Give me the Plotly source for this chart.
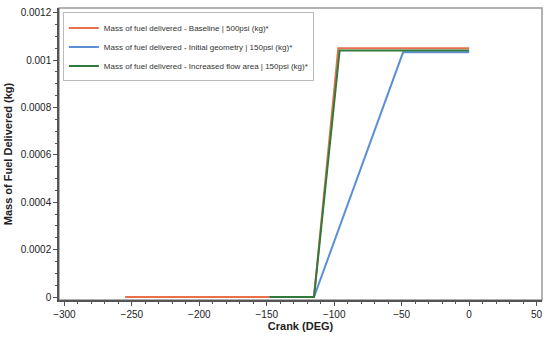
import plotly.graph_objects as go

names = [
    "Mass of fuel delivered - Baseline | 500psi (kg)*",
    "Mass of fuel delivered - Initial geometry | 150psi (kg)*",
    "Mass of fuel delivered - Increased flow area | 150psi (kg)*",
]
baseline_x = [-255, -115, -97, 0]
baseline_y = [0.0, 0.0, 0.00105, 0.00105]
initial_x = [-148, -115, -49, 0]
initial_y = [0.0, 0.0, 0.001033, 0.001033]
increased_x = [-148, -115, -96, 0]
increased_y = [0.0, 0.0, 0.001041, 0.001041]
colors = ["#e8714c", "#5b8fd6", "#2f7a3c"]

x_ticks = [-300, -250, -200, -150, -100, -50, 0, 50]
y_ticks = [0, 0.0002, 0.0004, 0.0006, 0.0008, 0.001, 0.0012]
y_ticktext = ["0", "0.0002", "0.0004", "0.0006", "0.0008", "0.001", "0.0012"]

fig = go.Figure()
for n, xs, ys, c in zip(names, [baseline_x, initial_x, increased_x],
                        [baseline_y, initial_y, increased_y], colors):
    fig.add_trace(go.Scatter(x=xs, y=ys, mode="lines", name=n,
                             line=dict(color=c, width=2)))

font = "Liberation Sans"
fig.update_layout(
    width=550, height=338,
    margin=dict(l=54, r=7, t=7, b=38),
    paper_bgcolor="white", plot_bgcolor="white",
    font=dict(family=font, size=10, color="#222"),
    showlegend=True,
    legend=dict(x=0.008, y=0.985, xanchor="left", yanchor="top",
                bgcolor="white", bordercolor="#bbbbbb", borderwidth=1,
                font=dict(size=8, color="#333"), tracegroupgap=0,
                itemwidth=30),
    shapes=[dict(type="rect", xref="paper", yref="paper", x0=0, x1=1, y0=0, y1=1,
                 line=dict(color="#999999", width=1.5), layer="below")],
)
fig.update_xaxes(
    range=[-304, 54], tickvals=x_ticks, showgrid=False, zeroline=False,
    showline=True, linecolor="#555", linewidth=1.5,
    ticks="outside", ticklen=4, tickcolor="#555",
    minor=dict(dtick=10, ticks="outside", ticklen=2, tickcolor="#555"),
    title=dict(text="<b>Crank (DEG)</b>", font=dict(size=11), standoff=4),
    tickfont=dict(size=10),
)
fig.update_yaxes(
    range=[-0.0000126, 0.00122], tickvals=y_ticks, ticktext=y_ticktext,
    showgrid=False, zeroline=False,
    showline=True, linecolor="#555", linewidth=1.5,
    ticks="outside", ticklen=4, tickcolor="#555",
    minor=dict(dtick=0.00005, tick0=0, ticks="outside", ticklen=2, tickcolor="#555"),
    title=dict(text="<b>Mass of Fuel Delivered (kg)</b>", font=dict(size=11), standoff=6),
    tickfont=dict(size=10),
)
fig.write_html(
    "out.html",
    config={"displayModeBar": False},
    post_script="document.body.style.margin='0';document.body.style.overflow='hidden';",
)
